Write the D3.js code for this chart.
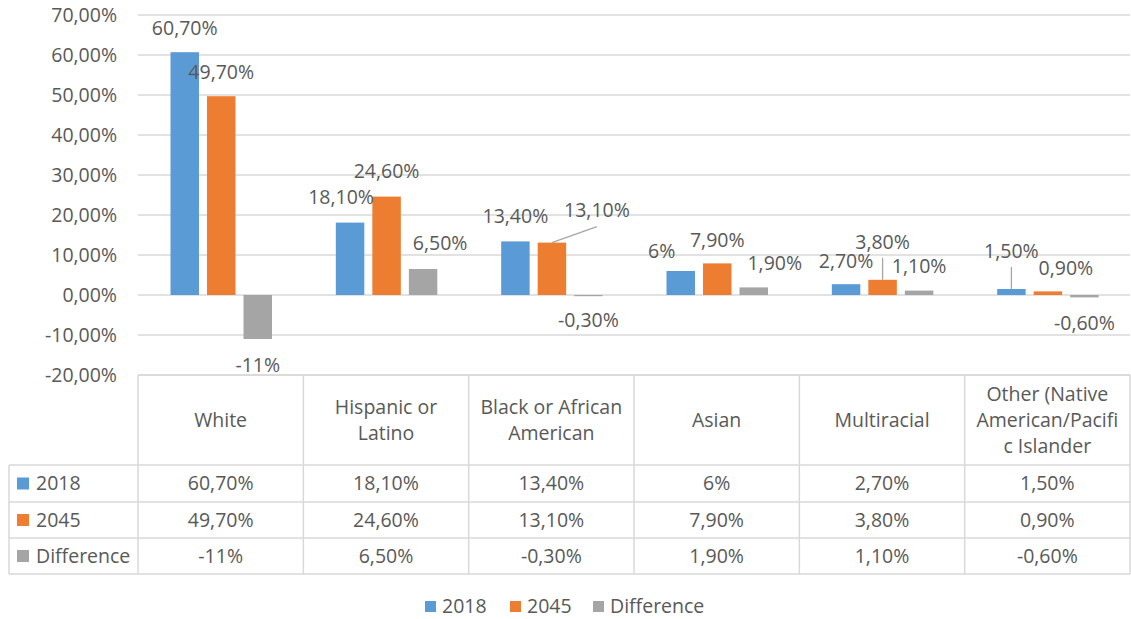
<!DOCTYPE html>
<html>
<head>
<meta charset="utf-8">
<script src="https://cdn.jsdelivr.net/npm/d3@7"></script>
<style>
  body { margin: 0; background: #fff; }
  text { font-family: "Open Sans", sans-serif; fill: #595959; }
</style>
</head>
<body>
<div id="chart"></div>
<script>
// DATA
var categories = ["White", "Hispanic or Latino", "Black or African American", "Asian", "Multiracial", "Other (Native American/Pacific Islander"]
var header_lines = [["White"], ["Hispanic or", "Latino"], ["Black or African", "American"], ["Asian"], ["Multiracial"], ["Other (Native", "American/Pacifi", "c Islander"]]
var series = ["2018", "2045", "Difference"]
var values_2018 = [60.7, 18.1, 13.4, 6, 2.7, 1.5]
var values_2045 = [49.7, 24.6, 13.1, 7.9, 3.8, 0.9]
var values_diff = [-11, 6.5, -0.3, 1.9, 1.1, -0.6]
var y_ticks = [-20, -10, 0, 10, 20, 30, 40, 50, 60, 70]

// label nudges [dx, dy, leader line] measured from bar end
var nudge_2018 = [[0,-24],[-9,-25],[0,-25],[-19,-20],[0,-23],[0,-38,1]]
var nudge_2045 = [[0,-24],[0,-25],[45,-32,1],[0,-23],[0,-38,1],[18,-23]]
var nudge_diff = [[0,26],[17,-26],[0,24],[21,-24],[0,-24],[0,26]]

var colors = ["#5b9bd5", "#ed7d31", "#a5a5a5"]
var all_values = [values_2018, values_2045, values_diff]
var all_nudges = [nudge_2018, nudge_2045, nudge_diff]

var W = 1131, H = 619
var plot_left = 138, plot_right = 1130, plot_top = 15, plot_bottom = 375
var table_left = 9
var row_tops = [375, 465, 502, 538, 574]
var fs = "19.5px"

var svg = d3.select("#chart").append("svg")
  .attr("width", W).attr("height", H)

var y = d3.scaleLinear().domain([-20, 70]).range([plot_bottom, plot_top])
var x = d3.scaleBand().domain(categories).range([plot_left, plot_right])
var x1 = d3.scaleBand().domain(series).range([32.5, 134]).paddingInner(0.22).paddingOuter(0)

var loc = d3.formatLocale({decimal: ",", thousands: ".", grouping: [3], currency: ["", "%"], minus: "-"})
var tick_fmt = function(d){ return loc.format(".2f")(d) + "%" }
function label_fmt(v){
  return Number.isInteger(v) ? v + "%" : v.toFixed(2).replace(".", ",") + "%"
}

// gridlines
svg.append("g").selectAll("line")
  .data(y_ticks)
  .enter().append("line")
  .attr("x1", plot_left).attr("x2", plot_right)
  .attr("y1", function(d){return y(d)}).attr("y2", function(d){return y(d)})
  .attr("stroke", "#d9d9d9").attr("stroke-width", 1.3)

// y axis
var yAxis = d3.axisLeft(y).tickValues(y_ticks).tickFormat(tick_fmt).tickSize(0).tickPadding(21)
var gy = svg.append("g").attr("transform", "translate(" + plot_left + ",0)").call(yAxis)
gy.select(".domain").remove()
gy.selectAll("text").style("font-size", fs).attr("fill", "#595959").style("font-family", "Open Sans")

// bars
var bar_data = []
series.forEach(function(s, si){
  categories.forEach(function(c, ci){
    bar_data.push({s: s, si: si, c: c, ci: ci, v: all_values[si][ci], n: all_nudges[si][ci]})
  })
})

svg.append("g").selectAll("rect")
  .data(bar_data)
  .enter().append("rect")
  .attr("x", function(d){return x(d.c) + x1(d.s)})
  .attr("width", x1.bandwidth())
  .attr("y", function(d){return y(Math.max(0, d.v))})
  .attr("height", function(d){return Math.abs(y(d.v) - y(0))})
  .attr("fill", function(d){return colors[d.si]})

// leader lines
svg.append("g").selectAll("line")
  .data(bar_data.filter(function(d){return d.n[2]}))
  .enter().append("line")
  .attr("x1", function(d){return x(d.c) + x1(d.s) + x1.bandwidth()/2})
  .attr("y1", function(d){return y(d.v)})
  .attr("x2", function(d){return x(d.c) + x1(d.s) + x1.bandwidth()/2 + d.n[0]})
  .attr("y2", function(d){return y(d.v) + d.n[1] + 16})
  .attr("stroke", "#a6a6a6").attr("stroke-width", 1.3)

// data labels
svg.append("g").selectAll("text")
  .data(bar_data)
  .enter().append("text")
  .attr("x", function(d){return x(d.c) + x1(d.s) + x1.bandwidth()/2 + d.n[0]})
  .attr("y", function(d){return y(d.v) + d.n[1]})
  .attr("dy", "0.35em")
  .attr("text-anchor", "middle")
  .style("font-size", fs)
  .text(function(d){return label_fmt(d.v)})

// DATA TABLE
var tg = svg.append("g")
var border = "#d9d9d9"
function hline(xa, xb, yy){
  tg.append("line").attr("x1", xa).attr("x2", xb).attr("y1", yy).attr("y2", yy)
    .attr("stroke", border).attr("stroke-width", 1.5)
}
function vline(xx, ya, yb){
  tg.append("line").attr("x1", xx).attr("x2", xx).attr("y1", ya).attr("y2", yb)
    .attr("stroke", border).attr("stroke-width", 1.5)
}
hline(plot_left, plot_right, row_tops[0])
for (var r = 1; r < row_tops.length; r++) hline(table_left, plot_right, row_tops[r])
vline(table_left, row_tops[1], row_tops[4])
categories.forEach(function(c){ vline(x(c), row_tops[0], row_tops[4]) })
vline(plot_right, row_tops[0], row_tops[4])

// header cells
var head_mid = (row_tops[0] + row_tops[1]) / 2
categories.forEach(function(c, ci){
  var lines = header_lines[ci]
  var lh = 26
  lines.forEach(function(l, li){
    tg.append("text")
      .attr("x", x(c) + x.bandwidth()/2)
      .attr("y", head_mid + (li - (lines.length - 1)/2) * lh)
      .attr("dy", "0.35em")
      .attr("text-anchor", "middle")
      .style("font-size", fs)
      .text(l)
  })
})

// value rows
series.forEach(function(s, si){
  var mid = (row_tops[si+1] + row_tops[si+2]) / 2
  tg.append("rect").attr("x", 17).attr("y", mid - 6).attr("width", 12).attr("height", 12).attr("fill", colors[si])
  tg.append("text").attr("x", 36).attr("y", mid).attr("dy", "0.35em").style("font-size", fs).text(s)
  categories.forEach(function(c, ci){
    tg.append("text")
      .attr("x", x(c) + x.bandwidth()/2)
      .attr("y", mid)
      .attr("dy", "0.35em")
      .attr("text-anchor", "middle")
      .style("font-size", fs)
      .text(label_fmt(all_values[si][ci]))
  })
})

// LEGEND
var legend_x = [425, 510, 593]
var lg = svg.append("g")
series.forEach(function(s, si){
  lg.append("rect").attr("x", legend_x[si]).attr("y", 601).attr("width", 11).attr("height", 11).attr("fill", colors[si])
  lg.append("text").attr("x", legend_x[si] + 17).attr("y", 606).attr("dy", "0.35em").style("font-size", fs).text(s)
})
</script>
</body>
</html>
